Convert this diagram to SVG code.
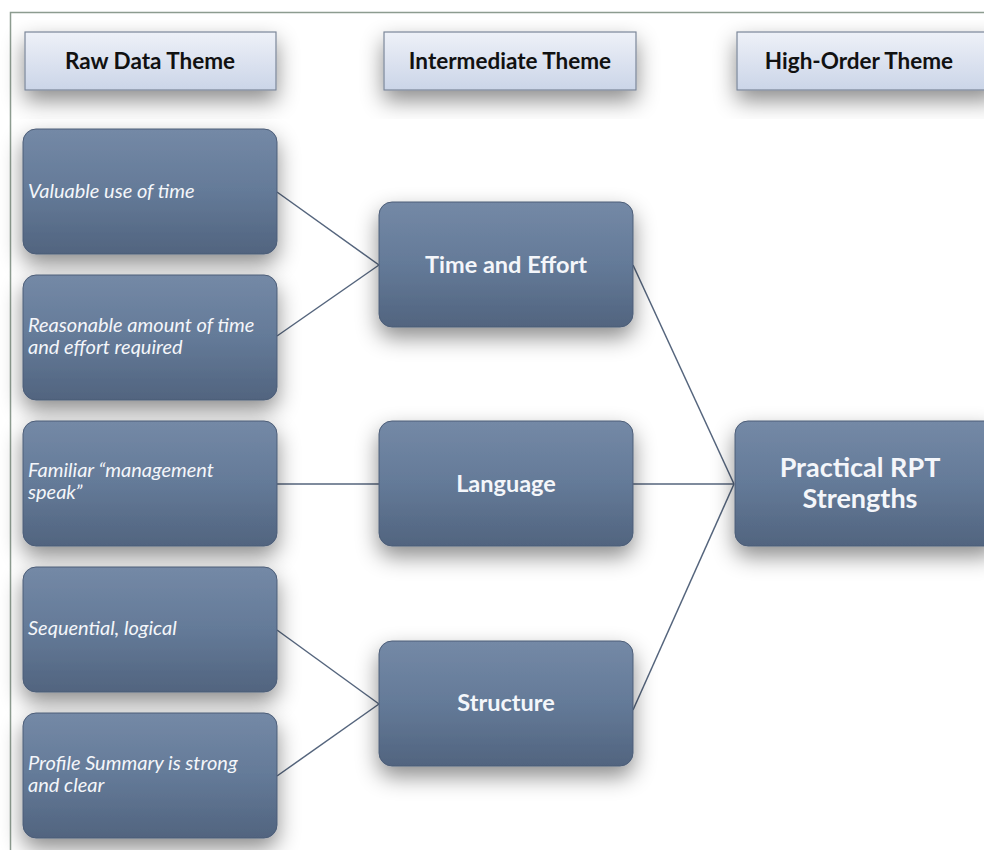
<svg xmlns="http://www.w3.org/2000/svg" width="984" height="850" viewBox="0 0 984 850">
<defs>
<linearGradient id="gNode" x1="0" y1="0" x2="0" y2="1">
<stop offset="0" stop-color="#7489a6"/>
<stop offset="0.5" stop-color="#647a98"/>
<stop offset="1" stop-color="#51647f"/>
</linearGradient>
<linearGradient id="gHead" x1="0" y1="0" x2="0" y2="1">
<stop offset="0" stop-color="#eef1f8"/>
<stop offset="1" stop-color="#cbd5e8"/>
</linearGradient>
<filter id="sh" x="-20%" y="-20%" width="140%" height="170%">
<feDropShadow dx="0" dy="10" stdDeviation="11" flood-color="#000" flood-opacity="0.45"/>
</filter>
</defs>
<style>
.node{fill:url(#gNode);stroke:#4c5d77;stroke-width:1;filter:url(#sh)}
.head{fill:url(#gHead);stroke:#7b8698;stroke-width:1.2;filter:url(#sh)}
.raw{font-family:Lato,"Open Sans",sans-serif;font-style:italic;font-size:20px;fill:#f4f6fa}
.mid{font-family:Lato,"Open Sans",sans-serif;font-weight:bold;font-size:23.5px;fill:#f4f6fa;text-anchor:middle}
.big{font-family:Lato,"Open Sans",sans-serif;font-weight:bold;font-size:27px;fill:#f4f6fa;text-anchor:middle}
.ht{font-family:Lato,"Open Sans",sans-serif;font-weight:bold;font-size:22.5px;fill:#111;text-anchor:middle}
.c{stroke:#55657d;stroke-width:1.5;fill:none}
</style>
<rect x="0" y="0" width="984" height="850" fill="#ffffff"/>
<path d="M10.5,850 V12.5 H984" fill="none" stroke="#8d9c90" stroke-width="1.5"/>

<g id="connectors">
<line class="c" x1="277" y1="192" x2="379" y2="265"/>
<line class="c" x1="277" y1="336" x2="379" y2="265"/>
<line class="c" x1="277" y1="484" x2="379" y2="484"/>
<line class="c" x1="277" y1="630" x2="379" y2="704"/>
<line class="c" x1="277" y1="776" x2="379" y2="704"/>
<line class="c" x1="633" y1="265" x2="734" y2="484"/>
<line class="c" x1="633" y1="484" x2="734" y2="484"/>
<line class="c" x1="633" y1="710" x2="734" y2="484"/>
</g>

<g id="h-raw"><rect class="head" x="25" y="32" width="251" height="58"/><text class="ht" x="150" y="69">Raw Data Theme</text></g>
<g id="h-int"><rect class="head" x="384" y="32" width="252" height="58"/><text class="ht" x="510" y="69">Intermediate Theme</text></g>
<g id="h-high"><rect class="head" x="737" y="32" width="260" height="58"/><text class="ht" x="859" y="69">High-Order Theme</text></g>

<g id="r1"><rect class="node" x="23" y="129" width="254" height="125" rx="13"/><text class="raw" x="28" y="198">Valuable use of time</text></g>
<g id="r2"><rect class="node" x="23" y="275" width="254" height="125" rx="13"/><text class="raw" x="28" y="332">Reasonable amount of time</text><text class="raw" x="28" y="354">and effort required</text></g>
<g id="r3"><rect class="node" x="23" y="421" width="254" height="125" rx="13"/><text class="raw" x="28" y="477">Familiar “management</text><text class="raw" x="28" y="499">speak”</text></g>
<g id="r4"><rect class="node" x="23" y="567" width="254" height="125" rx="13"/><text class="raw" x="28" y="635">Sequential, logical</text></g>
<g id="r5"><rect class="node" x="23" y="713" width="254" height="125" rx="13"/><text class="raw" x="28" y="770">Profile Summary is strong</text><text class="raw" x="28" y="792">and clear</text></g>

<g id="m1"><rect class="node" x="379" y="202" width="254" height="125" rx="13"/><text class="mid" x="506" y="273">Time and Effort</text></g>
<g id="m2"><rect class="node" x="379" y="421" width="254" height="125" rx="13"/><text class="mid" x="506" y="492">Language</text></g>
<g id="m3"><rect class="node" x="379" y="641" width="254" height="125" rx="13"/><text class="mid" x="506" y="711">Structure</text></g>

<g id="hi"><rect class="node" x="735" y="421" width="262" height="125" rx="13"/><text class="big" x="860" y="477">Practical RPT</text><text class="big" x="860" y="508">Strengths</text></g>
</svg>
